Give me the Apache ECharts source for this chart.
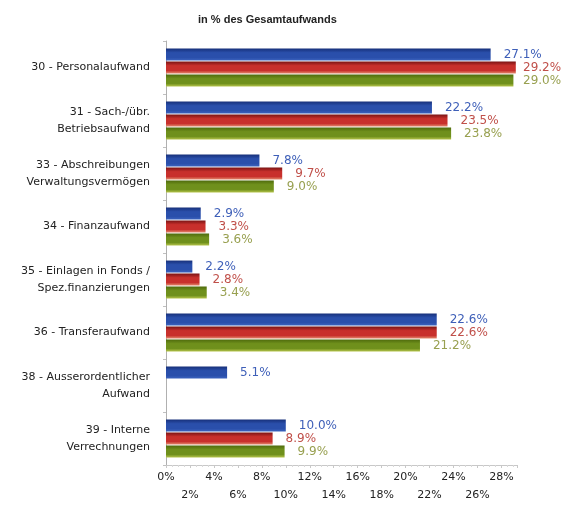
<!DOCTYPE html>
<html>
<head>
<meta charset="utf-8">
<script src="https://cdn.jsdelivr.net/npm/echarts@6/dist/echarts.min.js"></script>
<style>
  html, body {margin: 0; padding: 0; background: #fff;}
  #main {width: 563px; height: 506px;}
</style>
</head>
<body>
<div id="main"></div>
<script>
// Kategorien (Kontengruppen)
const categories = [
  '30 - Personalaufwand',
  '31 - Sach-/übr.\nBetriebsaufwand',
  '33 - Abschreibungen\nVerwaltungsvermögen',
  '34 - Finanzaufwand',
  '35 - Einlagen in Fonds /\nSpez.finanzierungen',
  '36 - Transferaufwand',
  '38 - Ausserordentlicher\nAufwand',
  '39 - Interne\nVerrechnungen',
]

// Anteile in % des Gesamtaufwands
const blueVals = [27.1, 22.2, 7.8, 2.9, 2.2, 22.6, 5.1, 10.0]
const redVals = [29.2, 23.5, 9.7, 3.3, 2.8, 22.6, '-', 8.9]
const greenVals = [29.0, 23.8, 9.0, 3.6, 3.4, 21.2, '-', 9.9]

// Achsenbeschriftung: obere Reihe / untere Reihe
const ticksTop = [0, 4, 8, 12, 16, 20, 24, 28]
const ticksBottom = [2, 6, 10, 14, 18, 22, 26]

const chart = echarts.init(document.getElementById('main'))

const font = 'DejaVu Sans'

/**
 * vertikaler Verlauf für den 3D-Effekt der Balken
 * @param {string[]} c
 */
const grad = c =>
  new echarts.graphic.LinearGradient(0, 0, 0, 1, [
    {offset: 0, color: c[0]},
    {offset: 0.35, color: c[1]},
    {offset: 0.75, color: c[1]},
    {offset: 1, color: c[2]},
  ])

const mk = (name, data, cols, labelColor) => ({
  name,
  type: 'bar',
  data,
  barWidth: 12,
  barGap: '8%',
  itemStyle: {color: grad(cols)},
  label: {
    show: true,
    position: 'right',
    distance: 13,
    color: labelColor,
    fontFamily: font,
    fontSize: 12,
    formatter: p => p.value.toFixed(1) + '%',
  },
  // Beschriftung am rechten Rand halten
  labelLayout: p => {
    const r = p.labelRect
    return {
      x: Math.min(r.x, 523),
      y: r.y + r.height / 2,
      align: 'left',
      verticalAlign: 'middle',
    }
  },
})

const option = {
  animation: false,
  title: {
    text: 'in % des Gesamtaufwands',
    left: 193,
    top: 9,
    textStyle: {fontFamily: 'Liberation Sans', fontSize: 11, fontWeight: 'bold', color: '#222'},
  },
  grid: {left: 166, right: 46, top: 41, bottom: 41},
  xAxis: {
    type: 'value',
    min: 0,
    max: 29.3,
    interval: 2,
    splitLine: {show: false},
    axisLine: {show: true, lineStyle: {color: '#c8c8c8'}},
    axisTick: {show: true, length: 3, lineStyle: {color: '#c8c8c8'}},
    minorTick: {show: true, splitNumber: 4, length: 2, lineStyle: {color: '#d8d8d8'}},
    axisLabel: {
      fontFamily: font,
      fontSize: 11,
      color: '#222',
      lineHeight: 18,
      margin: 3,
      formatter: v => {
        if (ticksTop.includes(v)) return v + '%'
        if (ticksBottom.includes(v)) return '\n' + v + '%'
        return ''
      },
    },
  },
  yAxis: {
    type: 'category',
    data: categories,
    inverse: true,
    axisLine: {lineStyle: {color: '#b0b0b0'}},
    axisTick: {show: true, length: 3, lineStyle: {color: '#c0c0c0'}},
    axisLabel: {fontFamily: font, fontSize: 11, color: '#222', lineHeight: 17, margin: 16},
  },
  series: [
    mk('Blau', blueVals, ['#17307a', '#2a4fab', '#3c63be'], '#3e5fb8'),
    mk('Rot', redVals, ['#7a1414', '#c8302c', '#e2896c'], '#c0504a'),
    mk('Grün', greenVals, ['#4e6a0c', '#6f901c', '#b4c34a'], '#98a050'),
  ],
}

chart.setOption(option)
</script>
</body>
</html>
